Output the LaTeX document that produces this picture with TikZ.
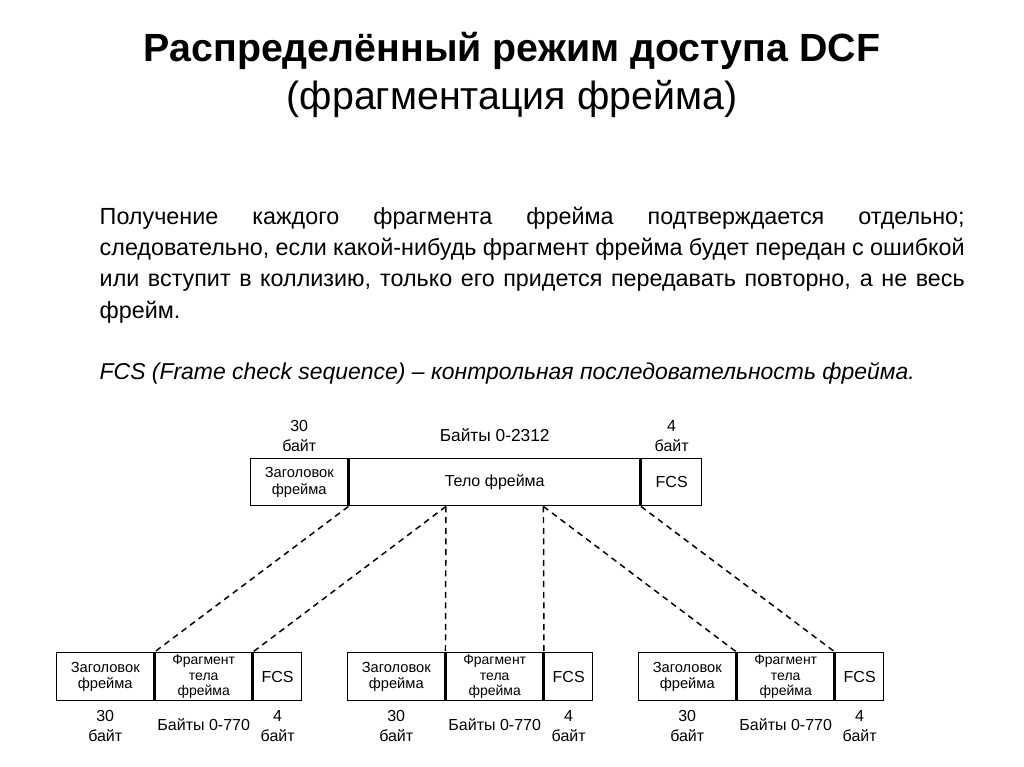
\documentclass[tikz,border=0pt]{standalone}
\usepackage{fontspec}
\setmainfont{Liberation Sans}
\usetikzlibrary{positioning,calc}

\begin{document}
\begin{tikzpicture}[x=0.75pt, y=-0.75pt, line width=1.1pt,
    cell/.style={draw, inner sep=0pt, align=center, font=\fontsize{11}{12.5}\selectfont},
    size/.style={align=center, inner sep=1pt, font=\fontsize{12}{15}\selectfont},
    link/.style={dashed, dash pattern=on 4.5pt off 3.5pt, line width=1.1pt}]
    \useasboundingbox (0,0) rectangle (1024,767);

    % 1. Заголовок и текст
    \node[font=\bfseries\fontsize{29.5}{34}\selectfont] (title) at (512,51) {Распределённый режим доступа DCF};
    \node[font=\fontsize{29.5}{34}\selectfont] (subtitle) at (512,99) {(фрагментация фрейма)};
    \node[anchor=north west, inner sep=0pt, text width=648.75pt, align=justify,
          font=\fontsize{17.5}{23.5}\selectfont] (para) at (99,206)
        {Получение каждого фрагмента фрейма подтверждается отдельно;\linebreak
         следовательно, если какой-нибудь фрагмент фрейма будет передан с ошибкой\linebreak
         или вступит в коллизию, только его придется передавать повторно, а не весь\linebreak
         фрейм.};
    \node[anchor=west, inner sep=0pt, font=\itshape\fontsize{17.2}{20}\selectfont] (note) at (99,373)
        {FCS (Frame check sequence) – контрольная последовательность фрейма.};

    % 2. Исходный фрейм
    \node[cell, minimum width=72.75pt, minimum height=35.25pt, anchor=north west] (hdr) at (250,458) {Заголовок\\фрейма};
    \node[cell, minimum width=218.25pt, minimum height=35.25pt, right=0pt of hdr, font=\fontsize{12}{12}\selectfont] (body) {Тело фрейма};
    \node[cell, minimum width=45pt, minimum height=35.25pt, right=0pt of body, font=\fontsize{12}{12}\selectfont] (fcs) {FCS};
    \node[size, above=3pt of hdr] (hdrsize) {30\\байт};
    \node[size, above=11pt of body, font=\fontsize{13}{15}\selectfont] (bodysize) {Байты 0-2312};
    \node[size, above=3pt of fcs] (fcssize) {4\\байт};

    % 3. Фрагменты
    \foreach \i/\x in {1/56, 2/347, 3/638} {
        \node[cell, minimum width=72.75pt, minimum height=36pt, anchor=north west] (fhdr\i) at (\x,652) {Заголовок\\фрейма};
        \node[cell, minimum width=72.75pt, minimum height=36pt, right=0pt of fhdr\i, font=\fontsize{10.5}{11.5}\selectfont] (fbody\i) {Фрагмент\\тела\\фрейма};
        \node[cell, minimum width=36pt, minimum height=36pt, right=0pt of fbody\i, font=\fontsize{12}{12}\selectfont] (ffcs\i) {FCS};
        \node[size, below=5pt of fhdr\i] (fhdrsize\i) {30\\байт};
        \node[size, below=11pt of fbody\i] (fbodysize\i) {Байты 0-770};
        \node[size, below=5pt of ffcs\i] (ffcssize\i) {4\\байт};
    }

    % 4. Пунктирные связи
    \coordinate (cut1) at ($(body.south west)!1/3!(body.south east)$);
    \coordinate (cut2) at ($(body.south west)!2/3!(body.south east)$);
    \draw[link] (body.south west) -- (fbody1.north west);
    \draw[link] (cut1) -- (fbody1.north east);
    \draw[link] (cut1) -- (fbody2.north west);
    \draw[link] (cut2) -- (fbody2.north east);
    \draw[link] (cut2) -- (fbody3.north west);
    \draw[link] (body.south east) -- (fbody3.north east);
\end{tikzpicture}
\end{document}
